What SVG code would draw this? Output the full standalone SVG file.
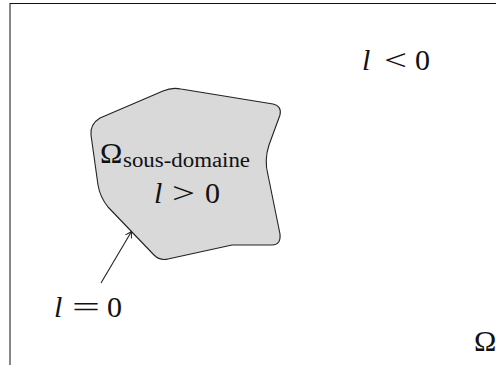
<svg xmlns="http://www.w3.org/2000/svg" width="496" height="365" viewBox="0 0 496 365">
<style>
.t{font-family:"Liberation Serif","DejaVu Serif",serif;fill:#111;font-size:30px}
.i{font-style:italic}
.sub{font-size:20px}
</style>
<defs>
<marker id="arr" viewBox="-8 -5 10 10" markerWidth="10" markerHeight="10" refX="0" refY="0" orient="auto" markerUnits="userSpaceOnUse">
<path d="M-6,-3.5 Q-2,-1 0,0 Q-2,1 -6,3.5" fill="none" stroke="#222" stroke-width="1"/>
</marker>
</defs>
<rect width="496" height="365" fill="#fff"/>
<g id="frame"><rect x="10" y="3.5" width="500" height="400" fill="none" stroke="#111" stroke-width="1"/></g>
<g id="subdomain">
<path d="M100,118 L163,91 Q172,87 181,89 L273,104 Q282,106 280,115 L269,145 Q264,160 268,175 L280,234 Q281,245 272,245 L232,245 L168,259 Q160,261 154,255 L108,207 Q100,197 98,185 L91,135 Q90,124 100,118 Z" fill="#d9d9d9" stroke="#222" stroke-width="1.1" stroke-linejoin="round"/>
<text class="t" x="100" y="163">Ω</text>
<text class="t sub" x="123" y="167" textLength="127" lengthAdjust="spacingAndGlyphs">sous-domaine</text>
<text class="t i" x="154" y="203">l</text>
<text class="t" x="172" y="203" textLength="23" lengthAdjust="spacingAndGlyphs">&gt;</text>
<text class="t" x="205" y="203">0</text>
</g>
<g id="outside">
<text class="t i" x="362" y="70">l</text>
<text class="t" x="384" y="70" textLength="23" lengthAdjust="spacingAndGlyphs">&lt;</text>
<text class="t" x="415" y="70">0</text>
</g>
<g id="boundary-label">
<text class="t i" x="54" y="317">l</text>
<text class="t" x="72" y="317" textLength="28" lengthAdjust="spacingAndGlyphs">=</text>
<text class="t" x="107" y="317">0</text>
</g>
<g id="domain-label">
<text class="t" x="474" y="351">Ω</text>
</g>
<g id="connectors">
<line x1="101" y1="283" x2="131.5" y2="231.5" stroke="#222" stroke-width="1.1" marker-end="url(#arr)"/>
</g>
</svg>
